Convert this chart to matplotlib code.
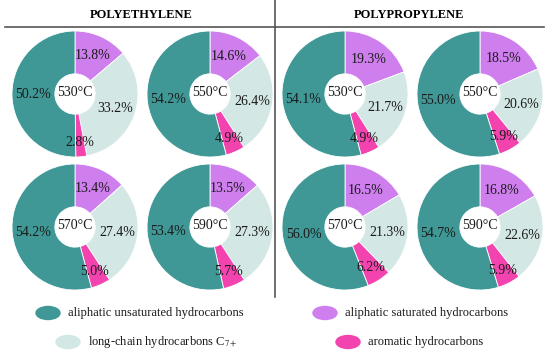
import numpy as np
import matplotlib
matplotlib.use("Agg")
import matplotlib.pyplot as plt
from matplotlib.patches import Ellipse

# ---- data ----
categories = ["aliphatic saturated hydrocarbons", "long-chain hydrocarbons C$_{7+}$",
              "aromatic hydrocarbons", "aliphatic unsaturated hydrocarbons"]
temperatures = ["530°C", "550°C", "570°C", "590°C"]

# order per pie: saturated, long-chain, aromatic, unsaturated
pe_values = [
    [13.8, 33.2, 2.8, 50.2],
    [14.6, 26.4, 4.9, 54.2],
    [13.4, 27.4, 5.0, 54.2],
    [13.5, 27.3, 5.7, 53.4],
]
pp_values = [
    [19.3, 21.7, 4.9, 54.1],
    [18.5, 20.6, 5.9, 55.0],
    [16.5, 21.3, 6.2, 56.0],
    [16.8, 22.6, 5.9, 54.7],
]

colors = ["#cf7eee", "#d3e7e5", "#f243ae", "#3f9896"]
label_dist = [0.67, 0.68, 0.77, 0.67]

W, H = 550, 352
plt.rcParams["font.family"] = ["Liberation Serif", "DejaVu Serif"]
plt.rcParams["mathtext.fontset"] = "stix"
fig = plt.figure(figsize=(W / 100, H / 100), dpi=100)

# overlay axes in pixel coords
bg = fig.add_axes([0, 0, 1, 1])
bg.set_xlim(0, W)
bg.set_ylim(H, 0)
bg.axis("off")


def draw_donut(cx, cy, vals, temp, r=63):
    ax = fig.add_axes([(cx - r) / W, 1 - (cy + r) / H, 2 * r / W, 2 * r / H])
    wedges, _ = ax.pie(vals, colors=colors, startangle=90, counterclock=False,
                       radius=1, wedgeprops=dict(width=0.68, linewidth=0.6, edgecolor="white"))
    ax.set_xlim(-1, 1)
    ax.set_ylim(-1, 1)
    ax.set_aspect("equal")
    for w, v, d in zip(wedges, vals, label_dist):
        ang = np.deg2rad((w.theta1 + w.theta2) / 2)
        ax.text(d * np.cos(ang), d * np.sin(ang), f"{v:.1f}%", ha="center", va="center",
                fontsize=10, color="#1a1a1a")
    ax.text(0, 0.02, temp, ha="center", va="center", fontsize=10, color="#1a1a1a")


xs = [75, 210, 345, 480]
ys = [94, 227]
for i in range(4):
    draw_donut(xs[i % 2], ys[i // 2], pe_values[i], temperatures[i])
    draw_donut(xs[2 + i % 2], ys[i // 2], pp_values[i], temperatures[i])

# headers and separators
bg.text(141, 15, "POLYETHYLENE", ha="center", va="center", fontsize=9, fontweight="bold")
bg.text(409, 15, "POLYPROPYLENE", ha="center", va="center", fontsize=9, fontweight="bold")
bg.plot([5, 544], [27, 27], color="#555555", lw=1.2)
bg.plot([275, 275], [0, 297], color="#555555", lw=1.2)

# legend
leg_pos = [(325, 313), (68, 342), (348, 342), (48, 313)]
for (lx, ly), c, lab in zip(leg_pos, colors, categories):
    bg.add_patch(Ellipse((lx, ly), 24, 13, color=c))
    bg.text(lx + 20, ly, lab, ha="left", va="center", fontsize=9, color="#1a1a1a")

fig.savefig("out.png", dpi=100)
